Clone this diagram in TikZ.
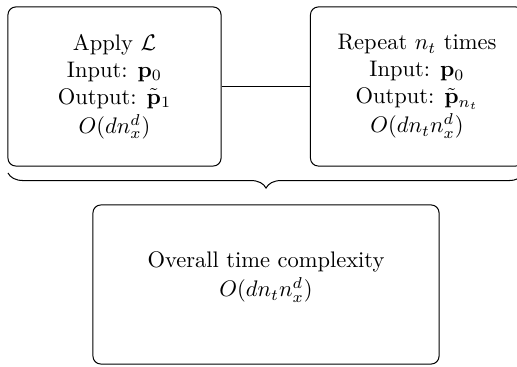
\documentclass[tikz,border=0pt]{standalone}
\usetikzlibrary{decorations.pathreplacing}
\begin{document}
\begin{tikzpicture}[x=0.4444pt,y=-0.4444pt,
  box/.style={draw, rounded corners=3.5pt, align=center, line width=0.45pt,
    minimum width=94.7pt, minimum height=70.7pt, inner sep=0pt},
  wide/.style={box, minimum width=153.8pt},
  link/.style={draw, line width=0.45pt}]
\useasboundingbox (0,0) rectangle (517,367);
\clip (0,0) rectangle (517,367);

% the two stages
\node[box] (apply) at (114.5,86.5)
  {Apply $\mathcal{L}$\\ Input: $\mathbf{p}_0$\\ Output: $\tilde{\mathbf{p}}_1$\\[1pt] $O(dn_x^d)$};
\node[box] (repeat) at (417,86.5)
  {Repeat $n_t$ times\\ Input: $\mathbf{p}_0$\\ Output: $\tilde{\mathbf{p}}_{n_t}$\\[1pt] $O(dn_tn_x^d)$};
\path[link] (apply) -- (repeat);

% brace gathering both stages
\coordinate (bl) at (8,173);
\coordinate (br) at (524,173);
\draw[link, decorate, decoration={brace, mirror, amplitude=6.7pt}] (bl) -- (br);

% total cost
\node[wide] (total) at (266,284.5) {};
\node[align=center, inner sep=0pt] (totaltext) at (266,277)
  {Overall time complexity\\[1pt] $O(dn_tn_x^d)$};
\end{tikzpicture}
\end{document}
